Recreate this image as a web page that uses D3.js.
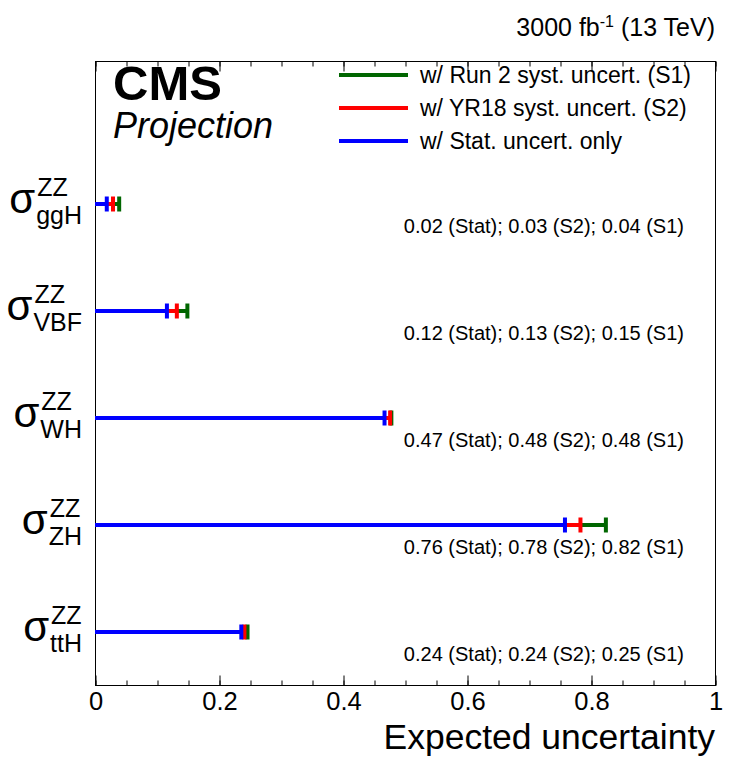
<!DOCTYPE html>
<html>
<head>
<meta charset="utf-8">
<script src="https://cdn.jsdelivr.net/npm/d3@7"></script>
<style>
  html, body { margin: 0; padding: 0; background: #fff; }
  svg { display: block; font-family: "Liberation Sans", Arial, Helvetica, sans-serif; }
</style>
</head>
<body>
<svg id="chart" width="731" height="757"></svg>
<script>
// ---- data ----
const categories = ["ggH", "VBF", "WH", "ZH", "ttH"];
const statValues = [0.019, 0.116, 0.467, 0.758, 0.236];
const s2Values   = [0.029, 0.132, 0.476, 0.783, 0.241];
const s1Values   = [0.039, 0.149, 0.478, 0.824, 0.246];
const statLabels = ["0.02", "0.12", "0.47", "0.76", "0.24"];
const s2Labels   = ["0.03", "0.13", "0.48", "0.78", "0.24"];
const s1Labels   = ["0.04", "0.15", "0.48", "0.82", "0.25"];
const majorTicks = [0, 0.2, 0.4, 0.6, 0.8, 1];
const tickLabels = ["0", "0.2", "0.4", "0.6", "0.8", "1"];
const legendLabels = ["w/ Run 2 syst. uncert. (S1)", "w/ YR18 syst. uncert. (S2)", "w/ Stat. uncert. only"];

const colS1 = "#006600", colS2 = "#ff0000", colStat = "#0000ff";

const svg = d3.select("#chart");
const frame = { left: 95, right: 715, top: 61, bottom: 685 };

const x = d3.scaleLinear().domain([0, 1]).range([frame.left, frame.right]);
const y = d3.scalePoint().domain(categories).range([204, 632]);

// frame
svg.append("rect")
  .attr("x", frame.left + 0.5).attr("y", frame.top + 0.5)
  .attr("width", frame.right - frame.left).attr("height", frame.bottom - frame.top)
  .attr("fill", "none").attr("stroke", "#000").attr("stroke-width", 1);

// axes: minor + major ticks, bottom and top, inside
const minorTicks = d3.range(0, 1.0001, 0.05).map(v => +v.toFixed(2));
function drawAxis(gen, yPos) {
  const g = svg.append("g").attr("transform", `translate(0.5,${yPos + 0.5})`);
  g.call(gen);
  g.select(".domain").remove();
  g.selectAll("line").attr("stroke", "#000");
  return g;
}
drawAxis(d3.axisBottom(x).tickValues(minorTicks).tickSizeInner(-5).tickSizeOuter(0).tickFormat(""), frame.bottom);
const bottomMajor = drawAxis(d3.axisBottom(x).tickValues(majorTicks).tickSizeInner(-10).tickSizeOuter(0)
  .tickFormat((d, i) => tickLabels[i]).tickPadding(6), frame.bottom);
bottomMajor.selectAll("text")
  .attr("font-size", 25.5).attr("fill", "#000")
  .attr("font-family", "Liberation Sans, Arial, sans-serif");
drawAxis(d3.axisTop(x).tickValues(minorTicks).tickSizeInner(-5).tickSizeOuter(0).tickFormat(""), frame.top);
drawAxis(d3.axisTop(x).tickValues(majorTicks).tickSizeInner(-10).tickSizeOuter(0).tickFormat(""), frame.top);

// axis title
svg.append("text").attr("x", frame.right).attr("y", 749).attr("text-anchor", "end")
  .attr("font-size", 35.5).text("Expected uncertainty");

// top-right lumi
const lumi = svg.append("text").attr("x", frame.right).attr("y", 36).attr("text-anchor", "end").attr("font-size", 25);
lumi.append("tspan").text("3000 fb");
lumi.append("tspan").attr("font-size", 16).attr("dy", -9).text("-1");
lumi.append("tspan").attr("dy", 9).text(" (13 TeV)");

// CMS label
svg.append("text").attr("x", 113).attr("y", 100).attr("font-size", 49).attr("font-weight", "bold").text("CMS");
svg.append("text").attr("x", 113).attr("y", 138).attr("font-size", 36).attr("font-style", "italic").text("Projection");

// legend
const legCols = [colS1, colS2, colStat];
const legY = [75, 108, 141];
legendLabels.forEach((t, i) => {
  svg.append("line").attr("x1", 339).attr("x2", 408).attr("y1", legY[i]).attr("y2", legY[i])
    .attr("stroke", legCols[i]).attr("stroke-width", 4);
  svg.append("text").attr("x", 420).attr("y", legY[i] + 8).attr("font-size", 23).text(t);
});

// category labels: sigma with stacked superscript ZZ and subscript process
categories.forEach(c => {
  const yc = y(c);
  const g = svg.append("g");
  const sub = g.append("text").attr("x", 82).attr("y", yc + 20).attr("text-anchor", "end")
    .attr("font-size", 25).text(c);
  const subW = sub.node().getComputedTextLength();
  const supW = 29;
  const left = 82 - Math.max(subW, supW);
  g.append("text").attr("x", left + 1).attr("y", yc - 8).attr("font-size", 25).text("ZZ");
  g.append("text").attr("x", left - 1).attr("y", yc + 9).attr("text-anchor", "end")
    .attr("font-size", 42).text("σ");
});

// error bars
const capH = 15, lw = 4;
const series = [
  { vals: s1Values, col: colS1 },
  { vals: s2Values, col: colS2 },
  { vals: statValues, col: colStat }
];
series.forEach(s => {
  const g = svg.append("g");
  g.selectAll("line.bar").data(categories).join("line")
    .attr("x1", x(0)).attr("x2", (d, i) => x(s.vals[i]))
    .attr("y1", d => y(d)).attr("y2", d => y(d))
    .attr("stroke", s.col).attr("stroke-width", lw);
  g.selectAll("line.cap").data(categories).join("line")
    .attr("x1", (d, i) => x(s.vals[i])).attr("x2", (d, i) => x(s.vals[i]))
    .attr("y1", d => y(d) - capH / 2).attr("y2", d => y(d) + capH / 2)
    .attr("stroke", s.col).attr("stroke-width", lw);
});

// annotations
categories.forEach((c, i) => {
  svg.append("text").attr("x", 684).attr("y", y(c) + 29).attr("text-anchor", "end")
    .attr("font-size", 20)
    .text(`${statLabels[i]} (Stat); ${s2Labels[i]} (S2); ${s1Labels[i]} (S1)`);
});
</script>
</body>
</html>
